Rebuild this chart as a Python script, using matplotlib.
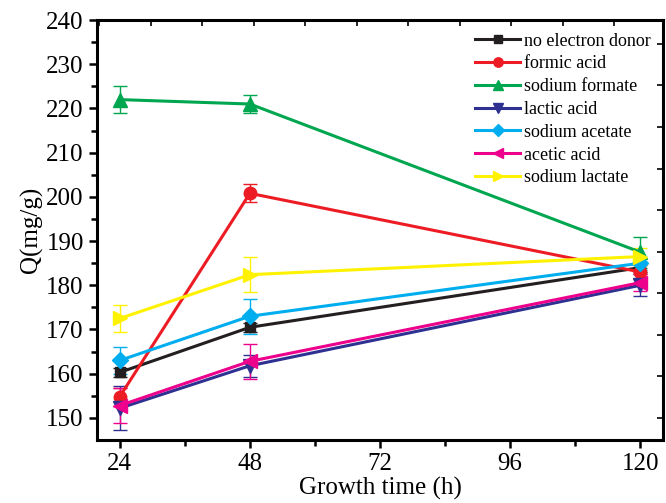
import numpy as np
import matplotlib.pyplot as plt

plt.rcParams['font.family'] = ['Liberation Serif', 'DejaVu Serif']

hours = [24, 48, 120]

labels = ['no electron donor', 'formic acid', 'sodium formate', 'lactic acid',
          'sodium acetate', 'acetic acid', 'sodium lactate']

no_donor = [160.3, 170.5, 184.0]
formic = [154.8, 200.8, 183.0]
na_formate = [222.0, 221.0, 187.5]
lactic = [152.2, 161.8, 180.0]
na_acetate = [163.0, 173.0, 185.0]
acetic = [152.8, 162.8, 180.6]
na_lactate = [172.5, 182.4, 186.5]

err_no_donor = [1.0, 1.0, 1.0]
err_formic = [2.0, 2.0, 1.5]
err_na_formate = [3.0, 2.0, 3.5]
err_lactic = [5.0, 2.5, 2.5]
err_na_acetate = [3.0, 4.0, 1.5]
err_acetic = [4.0, 4.0, 2.0]
err_na_lactate = [3.0, 4.0, 2.0]

series = [no_donor, formic, na_formate, lactic, na_acetate, acetic, na_lactate]
errors = [err_no_donor, err_formic, err_na_formate, err_lactic,
          err_na_acetate, err_acetic, err_na_lactate]
colors = ['#231f20', '#ed1c24', '#00a650', '#2e3192', '#00aeef', '#ec008c', '#fff200']
markers = ['s', 'o', '^', 'v', 'D', '<', '>']
msizes = [7, 9, 10, 10, 8, 10, 10]

fig = plt.figure(figsize=(6.66, 5.03), dpi=100)
ax = fig.add_axes([0.1456, 0.1252, 0.85, 0.835])

handles = []
for y, e, c, m, ms, lab in zip(series, errors, colors, markers, msizes, labels):
    cont = ax.errorbar(hours, y, yerr=e, color=c, marker=m, markersize=ms, lw=2.2,
                       elinewidth=1.0, capsize=5, capthick=1.0, label=lab)
    handles.append(cont.lines[0])

ax.set_xlim(19.8, 124.2)
ax.set_ylim(145, 240)
ax.set_xticks([24, 48, 72, 96, 120])
ax.set_xticks(np.arange(36, 120, 24), minor=True)
ax.set_yticks(np.arange(150, 241, 10))
ax.set_yticks(np.arange(155, 240, 10), minor=True)
ax.tick_params(which='major', direction='out', length=6, width=1.8, labelsize=18)
ax.tick_params(which='minor', direction='out', length=4, width=1.8)
for s in ax.spines.values():
    s.set_linewidth(2.2)

top = ax.secondary_xaxis('top')
top.set_xticks(np.arange(20.2, 124, 9.5))
top.tick_params(direction='in', length=4, width=1.2, labeltop=False)
right = ax.secondary_yaxis('right')
right.set_yticks(np.arange(150, 240, 9.4))
right.tick_params(direction='in', length=4, width=1.2, labelright=False)

ax.set_xlabel('Growth time (h)', fontsize=18, labelpad=1)
ax.set_ylabel('Q(mg/g)', fontsize=18, labelpad=2)

ax.legend(handles=handles, labels=labels, loc='upper right', fontsize=13,
          frameon=False, handlelength=2.5, handletextpad=0.2, markerscale=0.75,
          labelspacing=0.32, borderpad=0.2, bbox_to_anchor=(1.0, 1.0))

fig.savefig('out.png', dpi=100)
